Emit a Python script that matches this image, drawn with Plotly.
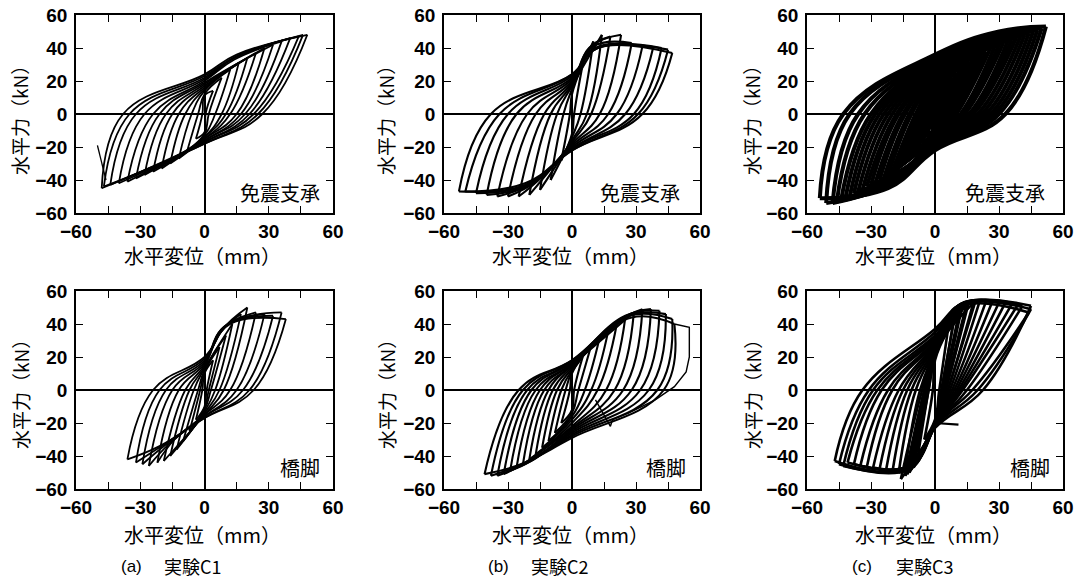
import plotly.graph_objects as go

W, H = 1090, 581

# ---------------- data ----------------
# Each loop i: positive peak -> zero-force crossing (unloading) -> zero-disp crossing
# -> optional knee -> negative peak; then negative peak -> zero-force crossing (reloading)
# -> zero-disp crossing -> optional knee -> positive peak.

# (a) C1 isolator
a1_pk_pos_x = [4, 8, 12, 16, 20, 24, 28, 32, 36, 40, 44, 46, 48]
a1_pk_pos_y = [14, 22, 27, 31, 34, 37, 40, 42, 44, 46, 47, 48, 48]
a1_zf_dn_x = [0.5, 2, 5, 8, 10, 12, 15, 17, 19, 21, 23, 25, 27]
a1_zd_dn_y = [-11, -12, -13, -14, -14, -15, -15, -16, -16, -17, -17, -18, -18]
a1_kn_dn_x = [None, None, None, None, None, None, None, None, None, None, None, None, None]
a1_kn_dn_y = [None, None, None, None, None, None, None, None, None, None, None, None, None]
a1_pk_neg_x = [-4, -8, -12, -16, -20, -24, -28, -32, -36, -40, -44, -47, -48]
a1_pk_neg_y = [-15, -22, -27, -30, -33, -35, -37, -39, -41, -42, -43, -44, -45]
a1_zf_up_x = [-1, -3, -6, -9, -12, -15, -18, -21, -24, -28, -32, -35, -38]
a1_zd_up_y = [11, 12, 14, 15, 16, 17, 18, 19, 20, 21, 22, 23, 24]
a1_kn_up_x = [None, None, None, None, None, None, None, None, 14, 14, 15, 15, 15]
a1_kn_up_y = [None, None, None, None, None, None, None, None, 33, 34, 35, 35, 36]
a1_start_x = [-50, -46]
a1_start_y = [-19, -40]

# (a) C1 pier
a2_pk_pos_x = [4, 7, 10, 13, 17, 20, 24, 28, 32, 36, 38]
a2_pk_pos_y = [18, 26, 33, 40, 46, 50, 47, 46, 45, 47, 43]
a2_zf_dn_x = [1, 2, 3, 5, 7, 9, 12, 15, 18, 21, 23]
a2_zd_dn_y = [-10, -11, -12, -13, -14, -15, -15, -16, -16, -17, -17]
a2_kn_dn_x = [None, None, None, None, None, None, -14, -16, -18, -20, -21]
a2_kn_dn_y = [None, None, None, None, None, None, -30, -32, -33, -34, -34]
a2_pk_neg_x = [-4, -7, -10, -13, -16, -19, -22, -26, -29, -32, -36]
a2_pk_neg_y = [-18, -25, -31, -36, -40, -43, -44, -46, -45, -44, -42]
a2_zf_up_x = [-1, -2, -3, -5, -7, -9, -12, -15, -18, -21, -24]
a2_zd_up_y = [10, 11, 12, 13, 14, 15, 16, 17, 18, 19, 20]
a2_kn_up_x = [None, None, None, None, 7, 8, 8, 9, 10, 11, 12]
a2_kn_up_y = [None, None, None, None, 34, 36, 37, 38, 39, 40, 40]

# (b) C2 isolator
b1_pk_pos_x = [5, 10, 14, 18, 23, 28, 33, 38, 42, 45, 47]
b1_pk_pos_y = [30, 44, 48, 47, 48, 43, 41, 40, 40, 39, 37]
b1_zf_dn_x = [1, 4, 7, 9, 13, 17, 21, 25, 29, 31, 33]
b1_zd_dn_y = [-12, -14, -16, -17, -18, -19, -20, -21, -21, -22, -22]
b1_kn_dn_x = [None, None, None, None, -14, -17, -19, -20, -21, -22, -22]
b1_kn_dn_y = [None, None, None, None, -38, -41, -42, -43, -43, -43, -42]
b1_pk_neg_x = [-5, -10, -15, -20, -25, -30, -35, -40, -45, -50, -53]
b1_pk_neg_y = [-28, -40, -46, -49, -50, -50, -50, -49, -48, -47, -47]
b1_zf_up_x = [-1, -4, -7, -10, -13, -17, -21, -26, -30, -34, -38]
b1_zd_up_y = [12, 15, 17, 18, 19, 20, 21, 22, 23, 24, 24]
b1_kn_up_x = [None, None, None, 8, 9, 10, 11, 11, 12, 12, 12]
b1_kn_up_y = [None, None, None, 40, 41, 41, 40, 40, 40, 40, 40]

# (b) C2 pier
b2_pk_pos_x = [5, 9, 13, 17, 21, 25, 29, 33, 37, 41, 44, 47, 48]
b2_pk_pos_y = [20, 27, 32, 36, 40, 44, 47, 49, 49, 48, 46, 43, 40]
b2_zf_dn_x = [1, 3, 6, 9, 12, 16, 20, 24, 28, 32, 36, 40, 43]
b2_zd_dn_y = [-12, -14, -16, -18, -20, -22, -23, -24, -25, -26, -27, -28, -29]
b2_kn_dn_x = [None, None, None, None, None, None, None, -18, -19, -20, -21, -22, -24]
b2_kn_dn_y = [None, None, None, None, None, None, None, -42, -43, -43, -44, -44, -45]
b2_pk_neg_x = [-5, -8, -11, -14, -17, -20, -23, -26, -29, -32, -35, -38, -41]
b2_pk_neg_y = [-20, -26, -31, -35, -39, -42, -45, -47, -49, -51, -52, -52, -51]
b2_zf_up_x = [-1, -3, -5, -7, -9, -11, -13, -15, -17, -19, -21, -23, -25]
b2_zd_up_y = [10, 11, 12, 13, 14, 15, 15, 16, 16, 17, 17, 18, 18]
b2_kn_up_x = [None, None, None, None, None, None, None, 22, 24, 25, 26, 27, 28]
b2_kn_up_y = [None, None, None, None, None, None, None, 42, 44, 45, 45, 45, 44]
b2_fin_x = [48, 55, 55, 53.5, 48, 39, 26.5, 19, 18, 11]
b2_fin_y = [40, 38, 20, 11, 2, -6, -14, -18, -22, -6]

# (c) C3 isolator
c1_pk_pos_x = [2, 4, 6, 8, 10, 12, 14, 16, 18, 20, 22, 24, 26, 28, 30, 32, 34, 36, 38, 40, 42, 44, 46, 48, 50, 52]
c1_pk_pos_y = [11, 15, 19, 22, 25, 28, 30, 32, 34, 36, 37, 38, 40, 41, 42, 43, 44, 45, 46, 47, 48, 49, 50, 51, 52, 53]
c1_zf_dn_x = [0.3, 0.6, 1, 1.5, 2, 3, 4, 5, 6, 7, 8, 9, 10, 12, 13, 14, 16, 17, 18, 20, 22, 24, 26, 28, 30, 33]
c1_zd_dn_y = [-7, -8, -9, -10, -11, -11, -12, -12, -13, -13, -14, -14, -15, -15, -15, -16, -16, -16, -17, -17, -18, -18, -19, -20, -21, -22]
c1_kn_dn_x = [None, None, None, None, None, None, None, None, None, None, None, None,
              -12, -13, -13, -14, -15, -15, -16, -17, -17, -18, -19, -20, -21, -22]
c1_kn_dn_y = [None, None, None, None, None, None, None, None, None, None, None, None,
              -31, -32, -33, -34, -35, -36, -37, -38, -39, -40, -41, -42, -43, -45]
c1_pk_neg_x = [-2, -4, -6, -8, -10, -12, -14, -16, -18, -20, -22, -24, -26, -28, -30, -32, -34, -36, -38, -40, -42, -44, -46, -48, -51, -54]
c1_pk_neg_y = [-9, -14, -18, -21, -24, -27, -29, -31, -33, -35, -37, -39, -40, -42, -43, -44, -46, -47, -48, -50, -51, -52, -53, -54, -54, -51]
c1_zf_up_x = [-0.3, -1, -2, -3, -4, -5, -6, -7, -8, -9, -11, -12, -14, -15, -17, -18, -20, -22, -24, -26, -28, -30, -33, -36, -40, -43]
c1_zd_up_y = [6, 8, 10, 12, 14, 15, 17, 18, 19, 20, 21, 22, 23, 24, 25, 26, 27, 28, 29, 30, 31, 32, 33, 34, 35, 36]
c1_kn_up_x = [None, None, None, None, None, None, None, None, None, None, None,
              12, 12, 13, 14, 15, 16, 17, 18, 19, 20, 21, 23, 25, 27, 30]
c1_kn_up_y = [None, None, None, None, None, None, None, None, None, None, None,
              33, 34, 35, 36, 37, 38, 39, 40, 41, 42, 43, 45, 46, 48, 50]

# (c) C3 pier
c2_pk_pos_x = [6, 9, 10, 12, 12, 13, 15, 15, 16, 18, 19, 21, 24, 27, 30, 33, 36, 39, 41, 44, 45, 45]
c2_pk_pos_y = [36, 44, 50, 49, 51, 52, 52, 53, 54, 53, 54, 54, 54, 54, 53, 53, 52, 52, 51, 47, 49, 51]
c2_zf_dn_x = [2, 3, 3, 4, 3.5, 4, 5, 4.5, 5, 6, 6, 7, 8, 9, 10, 11, 12, 13, 15, 17.5, 20, 22.5]
c2_zd_dn_y = [-18, -19, -20, -20, -20, -21, -20, -21, -21, -21, -22, -21, -21, -21, -22, -22, -22, -22, -22, -21, -22, -23]
c2_kn_dn_x = [None, None, None, None, None, None, -9, None, None, -10, None, -10, -11, -11, -11, -12, -12, -12, -12, -12, -12, -13]
c2_kn_dn_y = [None, None, None, None, None, None, -44, None, None, -46, None, -46, -46, -46, -46, -46, -46, -46, -46, -47, -48, -48]
c2_pk_neg_x = [-5, -8, -10, -11, -11, -12, -14, -13, -14, -17, -16, -20, -23, -26, -29, -32, -35, -38, -41, -43, -45, -47]
c2_pk_neg_y = [-30, -40, -47, -46, -48, -50, -49, -51, -52, -50, -54, -50, -49, -48, -47, -47, -46, -45, -44, -46, -45, -43]
c2_zf_up_x = [-1, -3, -3, -5, -3.5, -4, -7, -4.5, -5, -9, -6, -11, -13, -15, -17, -20, -22, -25, -27, -29, -31, -34]
c2_zd_up_y = [18, 20, 20, 22, 21, 21, 23, 22, 22, 24, 24, 25, 26, 27, 28, 29, 30, 31, 32, 33, 35, 37]
c2_kn_up_x = [None, None, None, 8, None, None, 9, None, None, 10, None, 10, 11, 11, 12, 12, 12, 13, 13, 13, 13, 14]
c2_kn_up_y = [None, None, None, 45, None, None, 47, None, None, 49, None, 50, 51, 51, 52, 52, 52, 52, 52, 51, 52, 53]
c2_tail_x = [0, 11]
c2_tail_y = [-20, -21]

x_tick_vals = [-60, -45, -30, -15, 0, 15, 30, 45, 60]
x_tick_text = ["\u221260", "", "\u221230", "", "0", "", "30", "", "60"]
y_tick_vals = [-60, -40, -20, 0, 20, 40, 60]
y_tick_text = ["\u221260", "\u221240", "\u221220", "0", "20", "40", "60"]

x_title = "水平変位（mm）"
y_title = "水平力（kN）"
top_label = "免震支承"
bottom_label = "橋脚"
captions = [("(a)", "実験C1"), ("(b)", "実験C2"), ("(c)", "実験C3")]


def loops(px, py, dzx, dzy, dkx, dky, nx, ny, uzx, uzy, ukx, uky):
    xs, ys = [], []
    for i in range(len(px)):
        sx = [px[i], dzx[i], 0]
        sy = [py[i], 0, dzy[i]]
        if dkx[i] is not None:
            sx.append(dkx[i]); sy.append(dky[i])
        sx.append(nx[i]); sy.append(ny[i])
        xs += sx + [None]; ys += sy + [None]
        sx = [nx[i], uzx[i], 0]
        sy = [ny[i], 0, uzy[i]]
        if ukx[i] is not None:
            sx.append(ukx[i]); sy.append(uky[i])
        sx.append(px[i]); sy.append(py[i])
        xs += sx + [None]; ys += sy + [None]
    return xs, ys


# ---------------- layout geometry (pixels) ----------------
cols = [(76, 333), (444, 700), (807, 1063)]
rows = [(15, 213), (291, 489)]

panels = [
    ("a1", 0, 0, (a1_pk_pos_x, a1_pk_pos_y, a1_zf_dn_x, a1_zd_dn_y, a1_kn_dn_x, a1_kn_dn_y,
                  a1_pk_neg_x, a1_pk_neg_y, a1_zf_up_x, a1_zd_up_y, a1_kn_up_x, a1_kn_up_y), 1.8),
    ("b1", 1, 0, (b1_pk_pos_x, b1_pk_pos_y, b1_zf_dn_x, b1_zd_dn_y, b1_kn_dn_x, b1_kn_dn_y,
                  b1_pk_neg_x, b1_pk_neg_y, b1_zf_up_x, b1_zd_up_y, b1_kn_up_x, b1_kn_up_y), 2.1),
    ("c1", 2, 0, (c1_pk_pos_x, c1_pk_pos_y, c1_zf_dn_x, c1_zd_dn_y, c1_kn_dn_x, c1_kn_dn_y,
                  c1_pk_neg_x, c1_pk_neg_y, c1_zf_up_x, c1_zd_up_y, c1_kn_up_x, c1_kn_up_y), 4.0),
    ("a2", 0, 1, (a2_pk_pos_x, a2_pk_pos_y, a2_zf_dn_x, a2_zd_dn_y, a2_kn_dn_x, a2_kn_dn_y,
                  a2_pk_neg_x, a2_pk_neg_y, a2_zf_up_x, a2_zd_up_y, a2_kn_up_x, a2_kn_up_y), 1.8),
    ("b2", 1, 1, (b2_pk_pos_x, b2_pk_pos_y, b2_zf_dn_x, b2_zd_dn_y, b2_kn_dn_x, b2_kn_dn_y,
                  b2_pk_neg_x, b2_pk_neg_y, b2_zf_up_x, b2_zd_up_y, b2_kn_up_x, b2_kn_up_y), 2.1),
    ("c2", 2, 1, (c2_pk_pos_x, c2_pk_pos_y, c2_zf_dn_x, c2_zd_dn_y, c2_kn_dn_x, c2_kn_dn_y,
                  c2_pk_neg_x, c2_pk_neg_y, c2_zf_up_x, c2_zd_up_y, c2_kn_up_x, c2_kn_up_y), 2.6),
]

num_font = dict(family="Liberation Sans, Arial, sans-serif", size=19, color="black", weight="bold")
cjk = "Noto Sans CJK JP, sans-serif"

fig = go.Figure()
layout = dict(width=W, height=H, margin=dict(l=0, r=0, t=0, b=0, autoexpand=False),
              template="none", paper_bgcolor="white", plot_bgcolor="white", showlegend=False)
annotations = []


def px2x(p):
    return p / W


def py2y(p):
    return 1 - p / H


for k, (name, ci, ri, arrs, lw) in enumerate(panels):
    idx = "" if k == 0 else str(k + 1)
    xa, ya = "x" + idx, "y" + idx
    c0, c1_ = cols[ci]
    r0, r1 = rows[ri]
    common = dict(range=[-60, 60], ticks="inside", ticklen=7, tickwidth=1.3,
                  tickcolor="black", showline=True, linecolor="black", linewidth=1.6,
                  mirror="ticks", showgrid=False, zeroline=True, zerolinecolor="black",
                  zerolinewidth=1.5, tickfont=num_font, automargin=False, fixedrange=True)
    layout["xaxis" + idx] = dict(domain=[px2x(c0), px2x(c1_)], anchor=ya,
                                 tickvals=x_tick_vals, ticktext=x_tick_text,
                                 ticklabelstandoff=0, **common)
    layout["yaxis" + idx] = dict(domain=[py2y(r1), py2y(r0)], anchor=xa,
                                 tickvals=y_tick_vals, ticktext=y_tick_text,
                                 ticklabelstandoff=3, **common)
    xs, ys = loops(*arrs)
    fig.add_trace(go.Scatter(x=xs, y=ys, mode="lines", xaxis=xa, yaxis=ya,
                             line=dict(color="black", width=lw, shape="spline", smoothing=1.2),
                             connectgaps=False, hoverinfo="skip"))
    if name == "a1":
        fig.add_trace(go.Scatter(x=a1_start_x, y=a1_start_y, mode="lines", xaxis=xa, yaxis=ya,
                                 line=dict(color="black", width=1.3), hoverinfo="skip"))
    if name == "b2":
        fig.add_trace(go.Scatter(x=b2_fin_x, y=b2_fin_y, mode="lines", xaxis=xa, yaxis=ya,
                                 line=dict(color="black", width=1.4), hoverinfo="skip"))
    if name == "c2":
        fig.add_trace(go.Scatter(x=c2_tail_x, y=c2_tail_y, mode="lines", xaxis=xa, yaxis=ya,
                                 line=dict(color="black", width=2.2), hoverinfo="skip"))

    # axis titles
    xt_y = [255, 534][ri]
    annotations.append(dict(text=x_title, x=px2x((c0 + c1_) / 2 - 2), y=py2y(xt_y),
                            xref="paper", yref="paper", showarrow=False,
                            xanchor="center", yanchor="middle",
                            font=dict(family=cjk, size=20, color="black")))
    yt_x = [20, 386, 752][ci]
    yt_y = [116, 390][ri]
    annotations.append(dict(text=y_title, x=px2x(yt_x), y=py2y(yt_y),
                            xref="paper", yref="paper", showarrow=False, textangle=-90,
                            xanchor="center", yanchor="middle",
                            font=dict(family=cjk, size=19, color="black")))
    # in-panel label
    lab = top_label if ri == 0 else bottom_label
    lab_right = [[322, 682, 1047], [322, 688, 1052]][ri][ci]
    lab_y = [192, 467][ri]
    annotations.append(dict(text=lab, x=px2x(lab_right), y=py2y(lab_y),
                            xref="paper", yref="paper", showarrow=False,
                            xanchor="right", yanchor="middle",
                            font=dict(family=cjk, size=20, color="black")))

# captions
cap_pos = [(119, 162), (486, 529), (850, 894)]
for (p1, p2), (t1, t2) in zip(cap_pos, captions):
    annotations.append(dict(text=t1, x=px2x(p1), y=py2y(566), xref="paper", yref="paper",
                            showarrow=False, xanchor="left", yanchor="middle",
                            font=dict(family="Liberation Sans, Arial, sans-serif", size=17, color="black")))
    annotations.append(dict(text=t2, x=px2x(p2), y=py2y(566), xref="paper", yref="paper",
                            showarrow=False, xanchor="left", yanchor="middle",
                            font=dict(family=cjk, size=18, color="black")))

layout["annotations"] = annotations
fig.update_layout(**layout)
fig.write_html("out.html", config={"displayModeBar": False},
               post_script="document.body.style.margin='0px';document.body.style.overflow='hidden';")
